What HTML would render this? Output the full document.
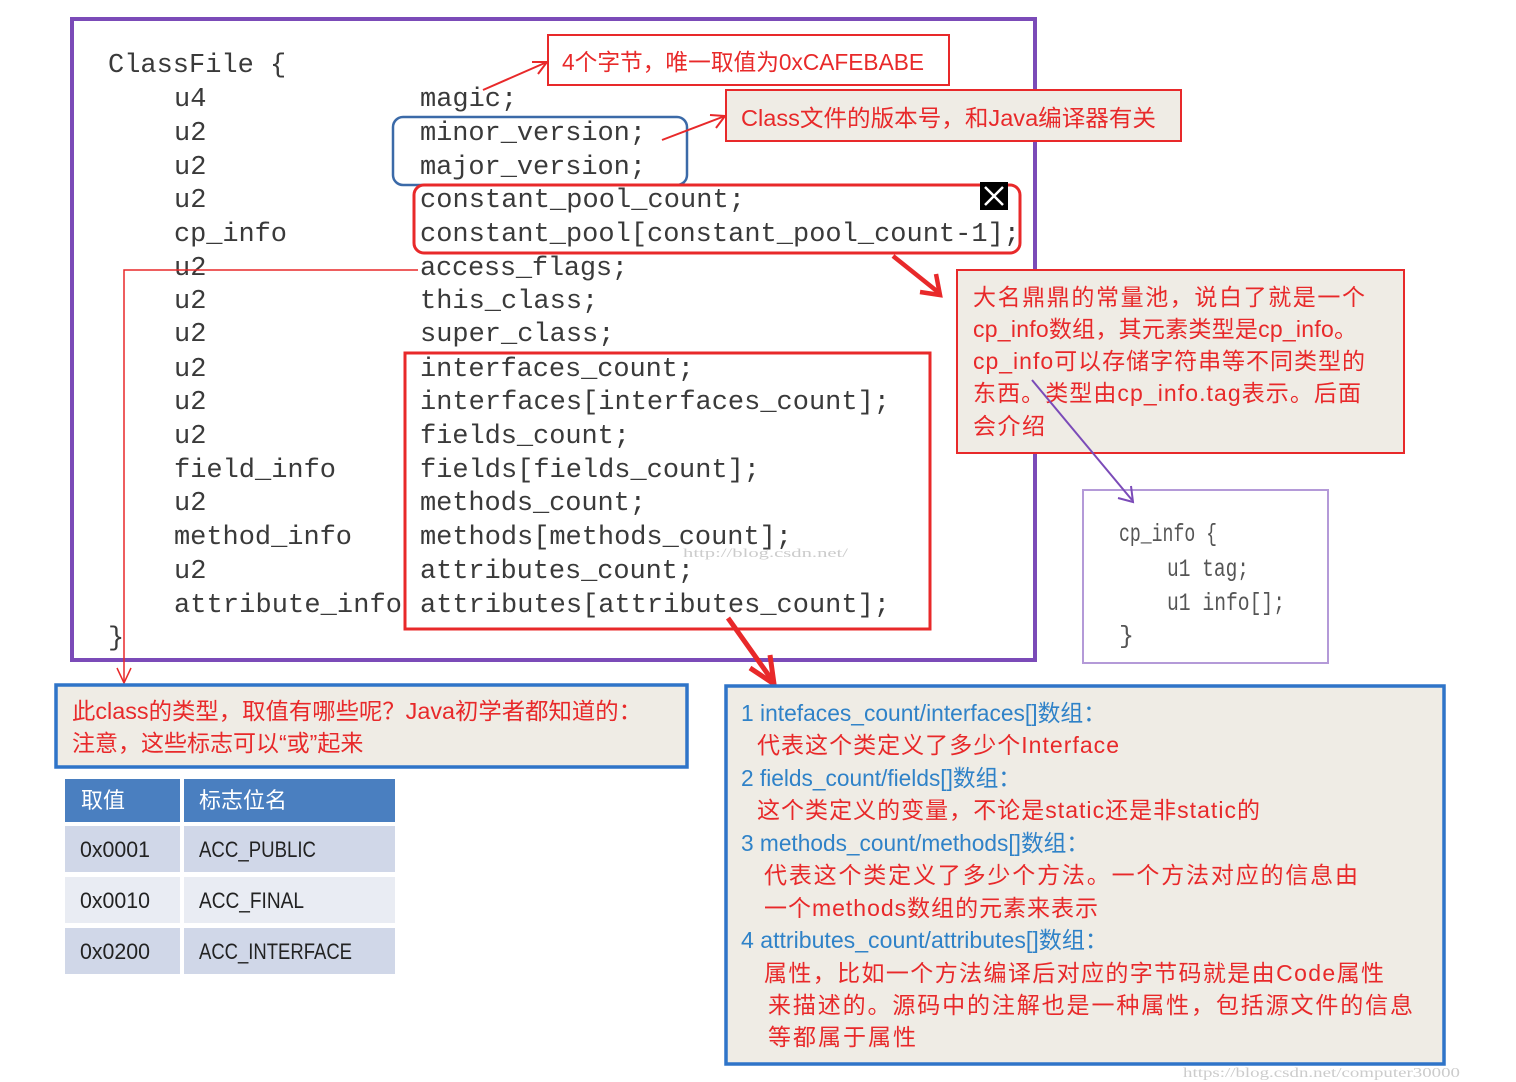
<!DOCTYPE html>
<html><head><meta charset="utf-8"><style>
html,body{margin:0;padding:0;background:#fff;}
svg{display:block}
.m{font-family:"Liberation Mono",monospace;font-size:27px;fill:#3a3a3a;}
.c{font-family:"Liberation Sans","Noto Sans CJK SC",sans-serif;font-size:23px;}
.r{fill:#e8292a}
.b{fill:#2f82c8}
</style></head><body>
<svg width="1516" height="1082" viewBox="0 0 1516 1082" xmlns="http://www.w3.org/2000/svg">
<rect x="72" y="19" width="963" height="641" fill="#fff" stroke="#7b4bb8" stroke-width="4"/>
<g class="m">
<text x="108" y="72">ClassFile {</text>
<text x="174" y="106">u4</text><text x="420" y="106">magic;</text>
<text x="174" y="140">u2</text><text x="420" y="140" textLength="226">minor_version;</text>
<text x="174" y="174">u2</text><text x="420" y="174" textLength="226">major_version;</text>
<text x="174" y="207">u2</text><text x="420" y="207" textLength="325">constant_pool_count;</text>
<text x="174" y="241" textLength="113">cp_info</text><text x="420" y="241" textLength="600">constant_pool[constant_pool_count-1];</text>
<text x="174" y="275">u2</text><text x="420" y="275" textLength="208">access_flags;</text>
<text x="174" y="308">u2</text><text x="420" y="308">this_class;</text>
<text x="174" y="341">u2</text><text x="420" y="341">super_class;</text>
<text x="174" y="376">u2</text><text x="420" y="376" textLength="274">interfaces_count;</text>
<text x="174" y="409">u2</text><text x="420" y="409" textLength="470">interfaces[interfaces_count];</text>
<text x="174" y="443">u2</text><text x="420" y="443" textLength="210">fields_count;</text>
<text x="174" y="477" textLength="162">field_info</text><text x="420" y="477" textLength="340">fields[fields_count];</text>
<text x="174" y="510">u2</text><text x="420" y="510" textLength="226">methods_count;</text>
<text x="174" y="544" textLength="178">method_info</text><text x="420" y="544" textLength="372">methods[methods_count];</text>
<text x="174" y="578">u2</text><text x="420" y="578" textLength="274">attributes_count;</text>
<text x="174" y="612" textLength="228">attribute_info</text><text x="420" y="612" textLength="470">attributes[attributes_count];</text>
<text x="108" y="645">}</text>
</g>
<text x="683" y="557" font-family="Liberation Serif,serif" font-size="13" fill="#ccc" textLength="165" lengthAdjust="spacingAndGlyphs">http://blog.csdn.net/</text>
<rect x="393" y="117" width="294" height="68" rx="10" fill="none" stroke="#3b6aa8" stroke-width="2.5"/>
<rect x="414" y="185" width="606" height="68" rx="10" fill="none" stroke="#e8292a" stroke-width="3"/>
<rect x="980" y="182" width="28" height="28" fill="#000"/>
<path d="M985,187 L1003,205 M1003,187 L985,205" stroke="#fff" stroke-width="2.5"/>
<rect x="405" y="353" width="525" height="276" fill="none" stroke="#e8292a" stroke-width="3"/>
<rect x="548" y="35" width="401" height="50" fill="#fff" stroke="#e8292a" stroke-width="2"/>
<text x="562" y="70" class="c r" textLength="362" lengthAdjust="spacingAndGlyphs">4个字节，唯一取值为0xCAFEBABE</text>
<path d="M483,90 L547,62 M532,62 L547,62 L538,74" stroke="#e8292a" stroke-width="2" fill="none"/>
<rect x="726" y="90" width="455" height="51" fill="#efece5" stroke="#e8292a" stroke-width="2"/>
<text x="741" y="126" class="c r" textLength="415" lengthAdjust="spacingAndGlyphs">Class文件的版本号，和Java编译器有关</text>
<path d="M662,140 L725,116 M710,115 L725,116 L716,128" stroke="#e8292a" stroke-width="2" fill="none"/>
<rect x="957" y="270" width="447" height="183" fill="#efece5" stroke="#e8292a" stroke-width="2"/>
<g class="c r">
<text x="973" y="305" textLength="392">大名鼎鼎的常量池，说白了就是一个</text>
<text x="973" y="337" textLength="384">cp_info数组，其元素类型是cp_info。</text>
<text x="973" y="369" textLength="392">cp_info可以存储字符串等不同类型的</text>
<text x="973" y="401" textLength="388">东西。类型由cp_info.tag表示。后面</text>
<text x="973" y="434" textLength="72">会介绍</text>
</g>
<path d="M893,256 L938,292" stroke="#e8292a" stroke-width="4.5" fill="none"/>
<path d="M920,292 L940,295 L936,274" stroke="#e8292a" stroke-width="4.5" fill="none"/>
<rect x="1083" y="490" width="245" height="173" fill="#fff" stroke="#b49ad8" stroke-width="2"/>
<line x1="1032" y1="380" x2="1132" y2="500" stroke="#7b4bb8" stroke-width="2"/>
<path d="M1118,498 L1133,502 L1131,486" stroke="#7b4bb8" stroke-width="2" fill="none"/>
<g font-family="Liberation Mono,monospace" font-size="25" fill="#555">
<text x="1119" y="541" textLength="98" lengthAdjust="spacingAndGlyphs">cp_info {</text>
<text x="1167" y="576" textLength="82" lengthAdjust="spacingAndGlyphs">u1 tag;</text>
<text x="1167" y="610" textLength="118" lengthAdjust="spacingAndGlyphs">u1 info[];</text>
<text x="1119" y="643">}</text>
</g>
<path d="M418,270 L124,270 L124,683" stroke="#e8292a" stroke-width="1.5" fill="none"/>
<path d="M117,668 L124,683 L131,668" stroke="#e8292a" stroke-width="1.5" fill="none"/>
<path d="M728,618 L772,680" stroke="#e8292a" stroke-width="5" fill="none"/>
<path d="M750,668 L774,684 L770,655" stroke="#e8292a" stroke-width="5" fill="none"/>
<rect x="56" y="685" width="631" height="82" fill="#efece5" stroke="#2f74c8" stroke-width="3.5"/>
<g class="c r">
<text x="72" y="719" textLength="570" lengthAdjust="spacingAndGlyphs">此class的类型，取值有哪些呢？Java初学者都知道的：</text>
<text x="72" y="751">注意，这些标志可以“或”起来</text>
</g>
<rect x="65" y="779" width="115" height="43" fill="#4a7fc0"/>
<rect x="184" y="779" width="211" height="43" fill="#4a7fc0"/>
<rect x="65" y="826" width="115" height="46" fill="#d0d7e8"/>
<rect x="184" y="826" width="211" height="46" fill="#d0d7e8"/>
<rect x="65" y="877" width="115" height="46" fill="#e9ecf3"/>
<rect x="184" y="877" width="211" height="46" fill="#e9ecf3"/>
<rect x="65" y="928" width="115" height="46" fill="#d0d7e8"/>
<rect x="184" y="928" width="211" height="46" fill="#d0d7e8"/>
<g font-family="Liberation Sans,Noto Sans CJK SC,sans-serif" font-size="22">
<text x="81" y="808" fill="#fff">取值</text>
<text x="199" y="808" fill="#fff">标志位名</text>
<text x="80" y="857" fill="#222" textLength="70" lengthAdjust="spacingAndGlyphs">0x0001</text>
<text x="199" y="857" fill="#222" textLength="117" lengthAdjust="spacingAndGlyphs">ACC_PUBLIC</text>
<text x="80" y="908" fill="#222" textLength="70" lengthAdjust="spacingAndGlyphs">0x0010</text>
<text x="199" y="908" fill="#222" textLength="105" lengthAdjust="spacingAndGlyphs">ACC_FINAL</text>
<text x="80" y="959" fill="#222" textLength="70" lengthAdjust="spacingAndGlyphs">0x0200</text>
<text x="199" y="959" fill="#222" textLength="153" lengthAdjust="spacingAndGlyphs">ACC_INTERFACE</text>
</g>
<rect x="726" y="686" width="718" height="378" fill="#efece5" stroke="#2f74c8" stroke-width="3.5"/>
<g class="c">
<text x="741" y="721" class="b" textLength="365" lengthAdjust="spacingAndGlyphs">1 intefaces_count/interfaces[]数组：</text>
<text x="757" y="753" class="r" textLength="362">代表这个类定义了多少个Interface</text>
<text x="741" y="786" class="b" textLength="280" lengthAdjust="spacingAndGlyphs">2 fields_count/fields[]数组：</text>
<text x="757" y="818" class="r" textLength="503">这个类定义的变量，不论是static还是非static的</text>
<text x="741" y="851" class="b" textLength="348" lengthAdjust="spacingAndGlyphs">3 methods_count/methods[]数组：</text>
<text x="764" y="883" class="r" textLength="594">代表这个类定义了多少个方法。一个方法对应的信息由</text>
<text x="764" y="916" class="r" textLength="334">一个methods数组的元素来表示</text>
<text x="741" y="948" class="b" textLength="367" lengthAdjust="spacingAndGlyphs">4 attributes_count/attributes[]数组：</text>
<text x="764" y="981" class="r" textLength="620">属性，比如一个方法编译后对应的字节码就是由Code属性</text>
<text x="768" y="1013" class="r" textLength="645">来描述的。源码中的注解也是一种属性，包括源文件的信息</text>
<text x="768" y="1045" class="r" textLength="148">等都属于属性</text>
</g>
<text x="1183" y="1077" font-family="Liberation Serif,serif" font-size="14" fill="#ccc" textLength="277" lengthAdjust="spacingAndGlyphs">https://blog.csdn.net/computer30000</text>
</svg>
</body></html>
